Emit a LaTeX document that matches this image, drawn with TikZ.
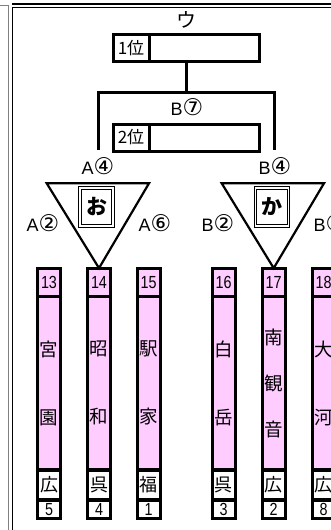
\documentclass[tikz,border=0pt]{standalone}
\usepackage{fontspec}
\setmainfont{Liberation Sans}
\newfontfamily\jp{Noto Sans CJK JP}
\newfontfamily\circled{DejaVu Sans}
\newfontfamily\narrow[FakeStretch=0.82]{Liberation Sans}
\usetikzlibrary{positioning}
\definecolor{pinkfill}{RGB}{255,204,255}
\newcommand\cnum[1]{{\circled\fontsize{23}{23}\selectfont #1}}

\begin{document}
\begin{tikzpicture}[x=1pt,y=-1pt,
    cell/.style={draw,line width=3.2pt,inner sep=0pt,outer sep=0pt,minimum width=23pt},
    numcell/.style={cell,fill=pinkfill,minimum height=28.5pt,font=\narrow\fontsize{17.5}{19}\selectfont},
    namecell/.style={cell,fill=pinkfill,minimum height=173.3pt,align=center,font=\jp\fontsize{18.5}{20}\selectfont},
    prefcell/.style={cell,fill=white,minimum height=30pt,font=\jp\fontsize{18}{20}\selectfont},
    rankcell/.style={cell,fill=white,minimum height=18.5pt,font=\narrow\fontsize{17.5}{19}\selectfont},
    placecell/.style={draw,line width=3pt,inner sep=0pt,outer sep=0pt,minimum height=27pt,minimum width=36pt,font=\jp\fontsize{17}{19}\selectfont},
    blankcell/.style={draw,line width=3pt,inner sep=0pt,outer sep=0pt,minimum height=27pt,minimum width=110.7pt},
    seedbox/.style={draw,double,line width=1pt,double distance=1.8pt,inner sep=0pt,minimum width=33pt,minimum height=38.5pt,font=\jp\bfseries\fontsize{21}{21}\selectfont},
    tag/.style={inner sep=0pt,font=\fontsize{18}{20}\selectfont},
    bracket/.style={line width=3pt},
    tri/.style={line width=2.2pt,line join=miter}]
  \useasboundingbox[fill=white] (0,0) rectangle (331,530);
  \draw[line width=2pt] (12,4.3) -- (331,4.3);
  \draw[line width=0.8pt,gray] (0,5) -- (8.5,5);
  \draw[line width=0.8pt] (12.5,7.2) -- (331,7.2);
  \draw[line width=0.8pt,gray] (8.5,5) -- (8.5,530);
  \draw[line width=0.8pt] (12.5,7.2) -- (12.5,530);

  \node[tag] (u) at (186.5,20) {\jp\fontsize{20}{20}\selectfont ウ};
  \node[placecell] (first) at (131,48) {1位};
  \node[blankcell,right=0pt of first] (firstname) {};
  \node[placecell] (second) at (131,137.5) {2位};
  \node[blankcell,right=0pt of second] (secondname) {};
  \node[tag] (b7) at (187,107) {B\cnum{⑦}};
  \coordinate (fork) at (186.5,92);
  \coordinate (forkL) at (98,92);
  \coordinate (forkR) at (274,92);
  \coordinate (endL) at (98,150);
  \coordinate (endR) at (274,150);
  \draw[bracket] (fork |- firstname.south) -- (fork);
  \draw[bracket] (endL) -- (forkL) -- (forkR) -- (endR);

  \node[tag] (a4) at (98,166) {A\cnum{④}};
  \node[tag] (b4) at (275,166) {B\cnum{④}};
  \node[tag] (a2) at (43,223) {A\cnum{②}};
  \node[tag] (a6) at (155,223) {A\cnum{⑥}};
  \node[tag] (b2) at (218,223) {B\cnum{②}};
  \node[tag] (b6) at (330,223) {B\cnum{⑥}};

  \node[numcell] (n13) at (49,282.4) {13};
  \node[namecell,below=0pt of n13] (m13) {宮\\[48pt]園};
  \node[prefcell,below=0pt of m13] (p13) {広};
  \node[rankcell,below=0pt of p13] (r13) {5};
  \node[numcell] (n14) at (99,282.4) {14};
  \node[namecell,below=0pt of n14] (m14) {昭\\[48pt]和};
  \node[prefcell,below=0pt of m14] (p14) {呉};
  \node[rankcell,below=0pt of p14] (r14) {4};
  \node[numcell] (n15) at (148.7,282.4) {15};
  \node[namecell,below=0pt of n15] (m15) {駅\\[48pt]家};
  \node[prefcell,below=0pt of m15] (p15) {福};
  \node[rankcell,below=0pt of p15] (r15) {1};
  \node[numcell] (n16) at (223.7,282.4) {16};
  \node[namecell,below=0pt of n16] (m16) {白\\[48pt]岳};
  \node[prefcell,below=0pt of m16] (p16) {呉};
  \node[rankcell,below=0pt of p16] (r16) {3};
  \node[numcell] (n17) at (273.7,282.4) {17};
  \node[namecell,below=0pt of n17] (m17) {南\\[26pt]観\\[26pt]音};
  \node[prefcell,below=0pt of m17] (p17) {広};
  \node[rankcell,below=0pt of p17] (r17) {2};
  \node[numcell] (n18) at (323.7,282.4) {18};
  \node[namecell,below=0pt of n18] (m18) {大\\[48pt]河};
  \node[prefcell,below=0pt of m18] (p18) {広};
  \node[rankcell,below=0pt of p18] (r18) {8};

  \coordinate (triAl) at (46.7,183.3);
  \coordinate (triAr) at (149,183.3);
  \coordinate (triBl) at (221.7,183.3);
  \coordinate (triBr) at (324,183.3);
  \draw[tri] (triAl) -- (triAr) -- (n14.north) -- cycle;
  \draw[tri] (triBl) -- (triBr) -- (n17.north) -- cycle;
  \node[seedbox] (seedA) at (96.5,207) {お};
  \node[seedbox] (seedB) at (272,207) {か};
\end{tikzpicture}
\end{document}
